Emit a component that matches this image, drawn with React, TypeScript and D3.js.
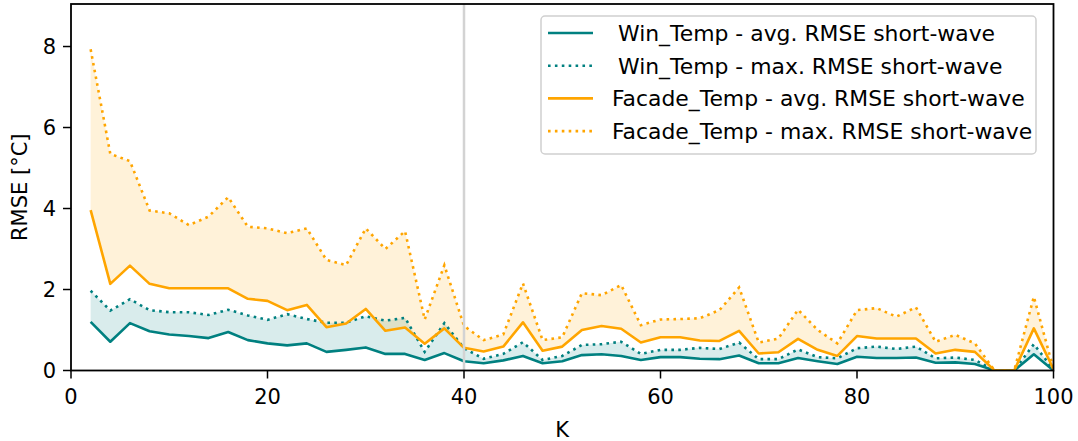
import React from "react";
import * as d3 from "d3";

const kValues = [2, 4, 6, 8, 10, 12, 14, 16, 18, 20, 22, 24, 26, 28, 30, 32, 34, 36, 38, 40, 42, 44, 46, 48, 50, 52, 54, 56, 58, 60, 62, 64, 66, 68, 70, 72, 74, 76, 78, 80, 82, 84, 86, 88, 90, 92, 94, 96, 98, 100];

const winAvg = [1.20, 0.71, 1.17, 0.97, 0.89, 0.85, 0.80, 0.95, 0.75, 0.67, 0.62, 0.67, 0.46, 0.51, 0.57, 0.41, 0.41, 0.26, 0.43, 0.23, 0.18, 0.25, 0.36, 0.18, 0.23, 0.38, 0.40, 0.36, 0.26, 0.33, 0.33, 0.29, 0.28, 0.37, 0.18, 0.18, 0.31, 0.23, 0.16, 0.34, 0.31, 0.31, 0.32, 0.19, 0.20, 0.16, 0, 0, 0.40, 0];

const winMax = [1.97, 1.48, 1.76, 1.49, 1.44, 1.44, 1.37, 1.50, 1.36, 1.25, 1.39, 1.27, 1.18, 1.18, 1.34, 1.23, 1.30, 0.46, 1.17, 0.55, 0.29, 0.41, 0.70, 0.26, 0.36, 0.63, 0.65, 0.71, 0.41, 0.51, 0.51, 0.56, 0.53, 0.69, 0.28, 0.28, 0.52, 0.33, 0.30, 0.55, 0.59, 0.53, 0.59, 0.30, 0.32, 0.26, 0, 0, 0.65, 0.02];

const facadeAvg = [3.96, 2.14, 2.59, 2.14, 2.03, 2.03, 2.03, 2.03, 1.77, 1.72, 1.49, 1.62, 1.07, 1.16, 1.52, 0.98, 1.06, 0.66, 1.04, 0.56, 0.47, 0.59, 1.19, 0.49, 0.59, 1.00, 1.10, 1.03, 0.69, 0.82, 0.82, 0.74, 0.73, 0.98, 0.42, 0.45, 0.78, 0.51, 0.36, 0.85, 0.79, 0.79, 0.79, 0.42, 0.51, 0.46, 0, 0, 1.04, 0.03];

const facadeMax = [7.93, 5.35, 5.17, 3.95, 3.88, 3.59, 3.80, 4.28, 3.55, 3.51, 3.39, 3.51, 2.73, 2.60, 3.51, 3.00, 3.44, 1.26, 2.60, 1.10, 0.75, 0.89, 2.15, 0.75, 0.82, 1.91, 1.86, 2.11, 1.12, 1.26, 1.27, 1.29, 1.49, 2.05, 0.69, 0.79, 1.50, 1.00, 0.67, 1.49, 1.54, 1.33, 1.56, 0.71, 0.88, 0.67, 0, 0, 1.82, 0.03];

const xTicks = [0, 20, 40, 60, 80, 100];
const yTicks = [0, 2, 4, 6, 8];

const legendItems = [
  { label: "Win_Temp - avg. RMSE short-wave", color: "#008080", dotted: false, indent: 6 },
  { label: "Win_Temp - max. RMSE short-wave", color: "#008080", dotted: true, indent: 6 },
  { label: "Facade_Temp - avg. RMSE short-wave", color: "#FFA500", dotted: false, indent: 0 },
  { label: "Facade_Temp - max. RMSE short-wave", color: "#FFA500", dotted: true, indent: 0 },
];

const TEAL = "#008080";
const ORANGE = "#FFA500";
const FONT = "DejaVu Sans, sans-serif";

export default function App() {
  const W = 1078;
  const H = 441;
  const left = 71;
  const right = 1053.5;
  const top = 4;
  const bottom = 370.5;

  const x = d3.scaleLinear().domain([0, 100]).range([left, right]);
  const y = d3.scaleLinear().domain([0, 9.05]).range([bottom, top]);

  const idx = kValues.map((_, i) => i);
  const line = (arr: number[]) =>
    d3.line<number>().x((i) => x(kValues[i])).y((i) => y(arr[i]))(idx) || "";
  const area = (lo: number[], hi: number[]) =>
    d3
      .area<number>()
      .x((i) => x(kValues[i]))
      .y0((i) => y(lo[i]))
      .y1((i) => y(hi[i]))(idx) || "";

  const lw = 2.6;
  const dash = `${lw} ${lw * 1.65}`;
  const fs = 21;
  const lfs = 21.9;

  return (
    <svg
      width={W}
      height={H}
      style={{ position: "absolute", left: 0, top: 0, background: "#fff" }}
      fontFamily={FONT}
    >
      <rect x={0} y={0} width={W} height={H} fill="#fff" />
      <defs>
        <clipPath id="plotclip">
          <rect x={left} y={top} width={right - left} height={bottom - top} />
        </clipPath>
      </defs>
      <g clipPath="url(#plotclip)">
        <path d={area(winAvg, winMax)} fill={TEAL} fillOpacity={0.15} stroke="none" />
        <path d={area(facadeAvg, facadeMax)} fill={ORANGE} fillOpacity={0.15} stroke="none" />
        <path d={line(winAvg)} fill="none" stroke={TEAL} strokeWidth={lw} strokeLinejoin="round" />
        <path d={line(winMax)} fill="none" stroke={TEAL} strokeWidth={lw} strokeDasharray={dash} />
        <path d={line(facadeAvg)} fill="none" stroke={ORANGE} strokeWidth={lw} strokeLinejoin="round" />
        <path d={line(facadeMax)} fill="none" stroke={ORANGE} strokeWidth={lw} strokeDasharray={dash} />
        <line x1={x(40)} x2={x(40)} y1={top} y2={bottom} stroke="#d3d3d3" strokeWidth={2.5} />
      </g>

      {/* frame */}
      <rect x={left} y={top} width={right - left} height={bottom - top} fill="none" stroke="#000" strokeWidth={1.8} />

      {/* x ticks */}
      {xTicks.map((t) => (
        <g key={"x" + t}>
          <line x1={x(t)} x2={x(t)} y1={bottom} y2={bottom + 8} stroke="#000" strokeWidth={1.5} />
          <text x={x(t)} y={bottom + 33} fontSize={fs} textAnchor="middle" fill="#000">
            {t}
          </text>
        </g>
      ))}
      {/* y ticks */}
      {yTicks.map((t) => (
        <g key={"y" + t}>
          <line x1={left - 8} x2={left} y1={y(t)} y2={y(t)} stroke="#000" strokeWidth={1.5} />
          <text x={left - 15} y={y(t) + 7.6} fontSize={fs} textAnchor="end" fill="#000">
            {t}
          </text>
        </g>
      ))}
      <text x={(left + right) / 2} y={437} fontSize={fs} textAnchor="middle" fill="#000">
        K
      </text>
      <text
        transform={`translate(27, ${(top + bottom) / 2}) rotate(-90)`}
        fontSize={fs}
        textAnchor="middle"
        fill="#000"
      >
        RMSE [°C]
      </text>

      {/* legend */}
      <rect x={541} y={16} width={495} height={138} rx={4} ry={4} fill="#fff" fillOpacity={0.8} stroke="#d0d0d0" strokeWidth={1.5} />
      {legendItems.map((it, i) => {
        const cy = 33 + i * 32.7;
        return (
          <g key={it.label}>
            <line
              x1={548}
              x2={593}
              y1={cy}
              y2={cy}
              stroke={it.color}
              strokeWidth={lw}
              strokeDasharray={it.dotted ? dash : undefined}
            />
            <text x={612 + it.indent} y={cy + 7.9} fontSize={lfs} fill="#000">
              {it.label}
            </text>
          </g>
        );
      })}
    </svg>
  );
}
